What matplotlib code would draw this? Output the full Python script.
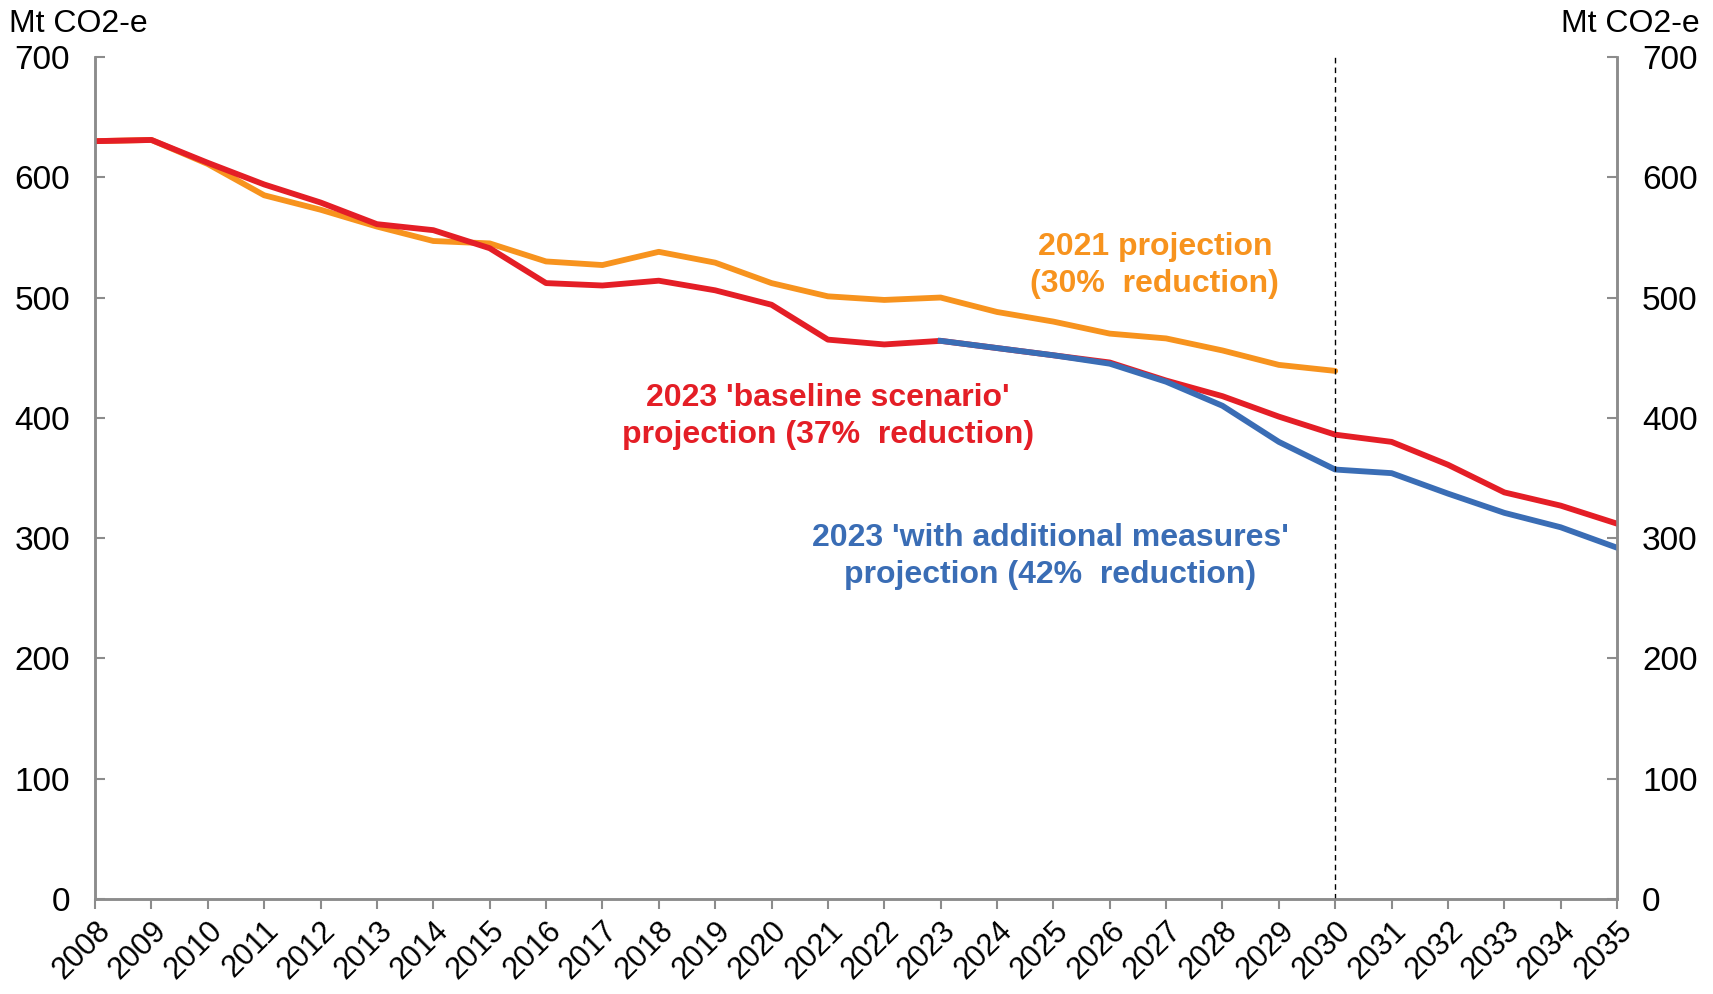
import matplotlib.pyplot as plt
import matplotlib as mpl

mpl.rcParams['font.family'] = ['Liberation Sans', 'DejaVu Sans']

# 数据（Mt CO2-e）
years = list(range(2008, 2036))
baseline_2023 = [630, 631, 612, 594, 579, 561, 556, 541, 512, 510, 514, 506, 494,
                 465, 461, 464, 458, 452, 446, 431, 418, 401, 386, 380, 361, 338, 327, 312]
years_wam = list(range(2023, 2036))
wam_2023 = [464, 458, 452, 445, 430, 410, 380, 357, 354, 337, 321, 309, 292]
years_2021 = list(range(2008, 2031))
proj_2021 = [630, 631, 611, 585, 573, 559, 547, 545, 530, 527, 538, 529, 512,
             501, 498, 500, 488, 480, 470, 466, 456, 444, 439]

c_red = '#E41E26'
c_orange = '#F7931E'
c_blue = '#3A6DB5'
c_axis = '#8C8C8C'

fig = plt.figure(figsize=(17.13, 9.94), dpi=100)
ax = fig.add_axes([0.0555, 0.0956, 0.8885, 0.8471])

ax.plot(years_2021, proj_2021, color=c_orange, lw=4.2, solid_capstyle='round', zorder=3)
ax.plot(years, baseline_2023, color=c_red, lw=4.2, zorder=4)
ax.plot(years_wam, wam_2023, color=c_blue, lw=4.2, zorder=5)

# 2030 虚线
ax.plot([2030, 2030], [0, 700], color='black', lw=1.0, ls=(0, (4, 3)), zorder=6)

ax.set_xlim(2008, 2035)
ax.set_ylim(0, 700)
ax.set_yticks(range(0, 701, 100))
ax.set_xticks(years)
ax.set_xticklabels([str(y) for y in years], rotation=45, ha='right',
                   rotation_mode='anchor', fontsize=22)
ax.tick_params(axis='y', direction='in', length=7, width=1.5, color=c_axis,
               labelsize=24, pad=18)
ax.tick_params(axis='x', direction='out', length=7, width=1.5, color=c_axis, pad=5)

ax.spines['top'].set_visible(False)
for s in ['left', 'right', 'bottom']:
    ax.spines[s].set_color(c_axis)
    ax.spines[s].set_linewidth(1.8)

ax2 = ax.twinx()
ax2.set_ylim(0, 700)
ax2.set_yticks(range(0, 701, 100))
ax2.tick_params(axis='y', direction='in', length=7, width=1.5, color=c_axis,
                labelsize=24, pad=18)
ax2.spines['top'].set_visible(False)
for s in ['left', 'right', 'bottom']:
    ax2.spines[s].set_color(c_axis)
    ax2.spines[s].set_linewidth(1.8)

fig.text(0.005, 0.976, 'Mt CO2-e', fontsize=23, ha='left', va='center')
fig.text(0.992, 0.976, 'Mt CO2-e', fontsize=23, ha='right', va='center')

ax.text(2026.8, 527, '2021 projection\n(30%  reduction)', color=c_orange,
        fontsize=23, fontweight='bold', ha='center', va='center', linespacing=1.3)
ax.text(2021.0, 401, "2023 'baseline scenario'\nprojection (37%  reduction)", color=c_red,
        fontsize=23, fontweight='bold', ha='center', va='center', linespacing=1.3)
ax.text(2024.95, 285, "2023 'with additional measures'\nprojection (42%  reduction)",
        color=c_blue, fontsize=23, fontweight='bold', ha='center', va='center',
        linespacing=1.3)

plt.savefig('out.png', dpi=100)
